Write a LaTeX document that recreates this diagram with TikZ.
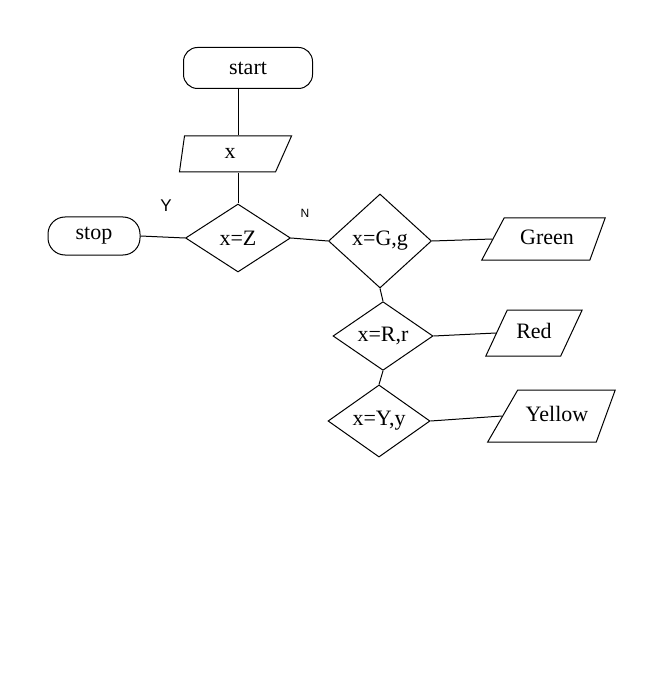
\documentclass[tikz,border=0pt]{standalone}
\usepackage{fontspec}
\setmainfont{Liberation Serif}
\newfontfamily\labfont{Liberation Sans}
\usetikzlibrary{shapes.geometric}
\begin{document}
\begin{tikzpicture}[x=1pt,y=-1pt,
  every node/.style={font=\fontsize{22}{24}\selectfont, inner sep=0pt},
  link/.style={draw=black, line width=1pt},
  termbox/.style={draw, line width=1pt, rectangle, rounded corners=14pt},
  iobox/.style={draw, line width=1pt, trapezium, text height=15pt, text depth=5pt},
  testbox/.style={draw, line width=1pt, diamond},
  yn/.style={font=\labfont\fontsize{17}{18}\selectfont}
]
\useasboundingbox (0,0) rectangle (659,700);
\fill[white] (0,0) rectangle (659,700);

\node[termbox, minimum width=129pt, minimum height=41pt] (start) at (248,68) {start};
\node[iobox, trapezium left angle=82, trapezium right angle=114, inner xsep=40pt, inner ysep=8pt] (x) at (230,154) {x};
\node[testbox, minimum width=105pt, minimum height=68pt] (xz) at (238,238) {x=Z};
\node[termbox, rounded corners=17pt, minimum width=92pt, minimum height=38pt] (stop) at (94,236) {stop};
\node[testbox, minimum width=103pt, minimum height=94pt] (xg) at (380,241) {x=G,g};
\node[testbox, minimum width=100pt, minimum height=68pt] (xr) at (383,336) {x=R,r};
\node[testbox, minimum width=102pt, minimum height=67pt] (xy) at (379,421) {x=Y,y};
\node[iobox, trapezium left angle=62, trapezium right angle=110, inner xsep=16pt, inner ysep=11pt] (green) at (547,239) {Green};
\node[iobox, trapezium left angle=65, trapezium right angle=115, inner xsep=9pt, inner ysep=13pt] (red) at (534,333) {Red};
\node[iobox, trapezium left angle=60, trapezium right angle=110, inner xsep=8pt, inner ysep=16pt] (yellow) at (557,416) {Yellow};

\node[yn] (ylab) at (166,206) {Y};
\node[yn, font=\labfont\fontsize{12}{13}\selectfont] (nlab) at (305,213) {N};

\draw[link] (start.south -| xz.north) -- (x.north -| xz.north);
\draw[link] (x.south -| xz.north) -- (xz.north);
\draw[link] (stop.east) -- (xz.west);
\draw[link] (xz.east) -- (xg.west);
\draw[link] (xg.east) -- (green.west);
\draw[link] (xg.south) -- (xr.north);
\draw[link] (xr.east) -- (red.west);
\draw[link] (xr.south) -- (xy.north);
\draw[link] (xy.east) -- (yellow.west);
\end{tikzpicture}
\end{document}
